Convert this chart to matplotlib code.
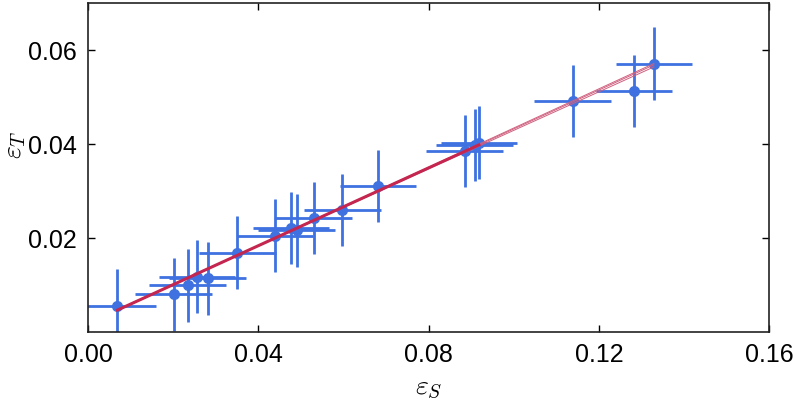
import matplotlib
matplotlib.use("Agg")
import matplotlib.pyplot as plt
import numpy as np

eps_s = [0.0069, 0.0201, 0.0234, 0.0256, 0.0281, 0.0351, 0.0439, 0.0477,
         0.0490, 0.0530, 0.0597, 0.0681, 0.0885, 0.0908, 0.0918, 0.1138,
         0.1282, 0.1329]
eps_t = [0.0056, 0.0080, 0.0099, 0.0118, 0.0114, 0.0169, 0.0205, 0.0221,
         0.0216, 0.0243, 0.0260, 0.0311, 0.0385, 0.0398, 0.0403, 0.0492,
         0.0513, 0.0571]
err_s = [0.009] * len(eps_s)
err_t = [0.0077] * len(eps_t)

# linear fits  eps_t = a * eps_s + b
fit_main = (0.414, 0.0018)
fit_slopes = [0.410, 0.414, 0.417]
fit_icepts = [0.0019, 0.0018, 0.0017]

x_ticks = [0.00, 0.04, 0.08, 0.12, 0.16]
y_ticks = [0.02, 0.04, 0.06]

plt.rcParams['font.family'] = ['Liberation Sans', 'DejaVu Sans']
plt.rcParams['mathtext.fontset'] = 'cm'

fig = plt.figure(figsize=(7.93, 4.0), dpi=100)
ax = fig.add_axes([0.111, 0.17, 0.859, 0.8225])

xs = np.array(eps_s)
red = '#c4264f'

# thin fit lines over the full data range
xx = np.array([xs.min(), xs.max()])
for a, b in zip(fit_slopes, fit_icepts):
    ax.plot(xx, a * xx + b, color='#d0607f', lw=0.7, zorder=2)

# thick line over the dense part
xm = np.array([xs.min(), xs[14]])
ax.plot(xm, fit_main[0] * xm + fit_main[1], color=red, lw=2.2, zorder=3)

ax.errorbar(eps_s, eps_t, xerr=err_s, yerr=err_t, fmt='o', color='#3f72e0',
            ms=7, elinewidth=2, capsize=0, zorder=1)

ax.set_xlim(0, 0.16)
ax.set_ylim(0, 0.07)
ax.set_xticks(x_ticks)
ax.set_yticks(y_ticks)
ax.set_xticklabels(['%.2f' % v for v in x_ticks])
ax.set_yticklabels(['%.2f' % v for v in y_ticks])
ax.tick_params(direction='in', top=True, right=True, length=5, width=1,
               labelsize=18, pad=8)
for s in ax.spines.values():
    s.set_linewidth(1.2)
    s.set_color('#222222')

ax.set_xlabel(r'$\varepsilon_S$', fontsize=20)
ax.set_ylabel(r'$\varepsilon_T$', fontsize=20)
ax.xaxis.set_label_coords(0.5, -0.132)
ax.yaxis.set_label_coords(-0.088, 0.57)

fig.savefig('out.png', dpi=100)
